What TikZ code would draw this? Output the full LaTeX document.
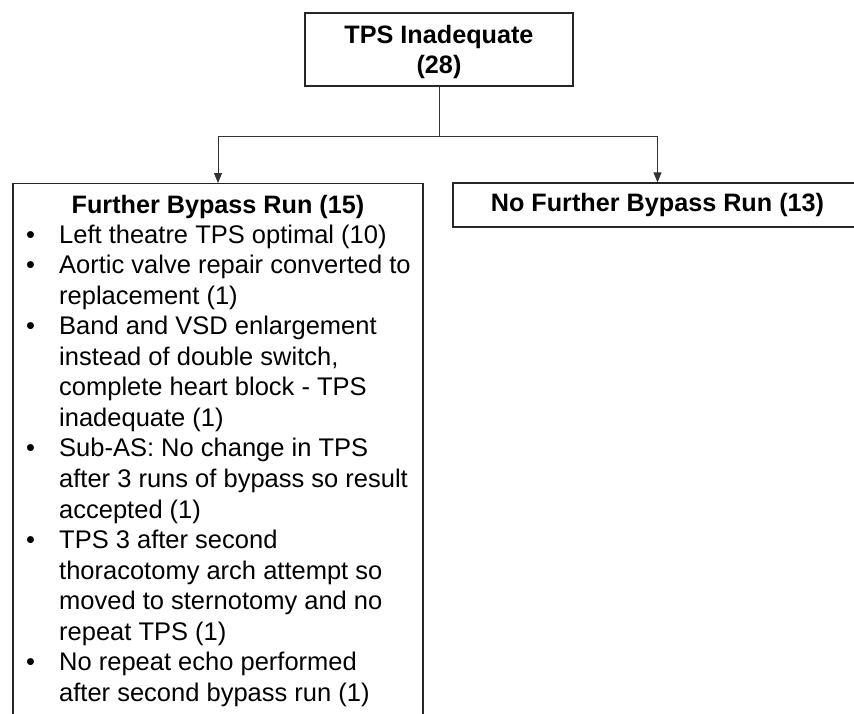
\documentclass[tikz,border=0pt]{standalone}
\usepackage{fontspec}
\setmainfont{Liberation Sans}
\usetikzlibrary{arrows.meta}
\begin{document}
\begin{tikzpicture}[x=1pt,y=1pt,
  box/.style={draw=black!85, line width=1.3pt, inner sep=0pt},
  conn/.style={draw=black!80, line width=0.9pt},
  arr/.style={conn, -{Triangle[width=8pt,length=10pt]}},
  txt/.style={font=\fontsize{25.5}{30.56}\selectfont, inner sep=0pt},
  btxt/.style={font=\fontsize{25.2}{30}\selectfont\bfseries, inner sep=0pt},
]
\useasboundingbox (0,0) rectangle (854,-713);
\node[box, btxt, minimum width=268, minimum height=73, align=center] (top) at (439,-49.5) {\rule{0pt}{23.5pt}TPS Inadequate\\(28)};
\node[box, btxt, minimum width=409, minimum height=44] (nofurther) at (657.5,-205) {No Further Bypass Run (13)};
\node[box, minimum width=410, minimum height=560, anchor=north] (further) at (218,-183) {};
\node[btxt, anchor=base] (furtherhead) at (218,-213) {Further Bypass Run (15)};
\node[txt, anchor=base west] (list) at (26,-243) {\begin{tabular}[t]{@{}l@{}l@{}}
\makebox[33pt][l]{\textbullet} & Left theatre TPS optimal (10)\\
\textbullet & Aortic valve repair converted to\\
 & replacement (1)\\
\textbullet & Band and VSD enlargement\\
 & instead of double switch,\\
 & complete heart block - TPS\\
 & inadequate (1)\\
\textbullet & Sub-AS: No change in TPS\\
 & after 3 runs of bypass so result\\
 & accepted (1)\\
\textbullet & TPS 3 after second\\
 & thoracotomy arch attempt so\\
 & moved to sternotomy and no\\
 & repeat TPS (1)\\
\textbullet & No repeat echo performed\\
 & after second bypass run (1)
\end{tabular}};
\coordinate (split) at (439,-136);
\draw[conn] (top.south) -- (split);
\draw[arr] (split) -| (further.north);
\draw[arr] (split) -| (nofurther.north);
\end{tikzpicture}
\end{document}
